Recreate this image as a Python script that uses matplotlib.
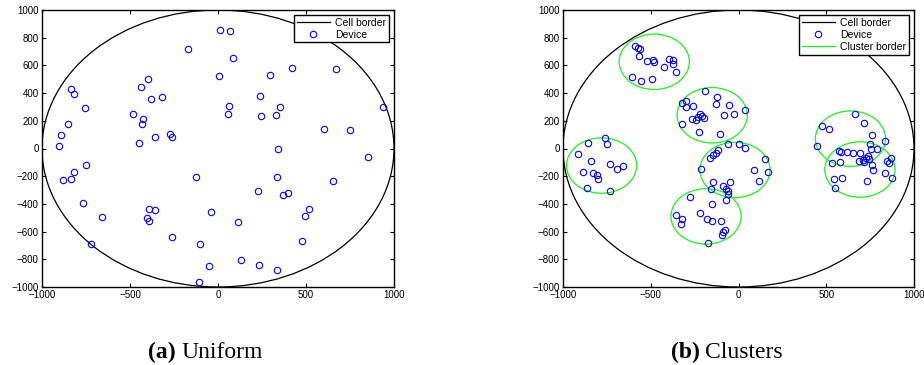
import numpy as np
import matplotlib
matplotlib.use("Agg")
import matplotlib.pyplot as plt
from matplotlib.patches import Circle
from matplotlib.lines import Line2D

plt.rcParams["font.family"] = ["Liberation Sans", "DejaVu Sans"]

# ---------------- data ----------------
cell_radius = 1000

# (a) uniform devices
uni_x = [-170, -837, -818, -756, -854, -890, -905, -483, -438, -396, -381, -316,
         -424, -430, -449, -356, -273, -261, 10, 66, 85, 7, 294, 420, 670, 937,
         240, 64, 57, 246, 330, 352, 602, 752, 339, -750, -816, -835, -881, -765,
         -659, -392, -360, -402, -394, -127, -261, -722, -102, -52, -108, -40,
         852, 655, 333, 225, 368, 399, 112, 517, 496, 479, 129, 233, 337]
uni_y = [718, 432, 392, 295, 177, 95, 20, 251, 446, 502, 360, 374,
         211, 177, 42, 85, 105, 81, 856, 846, 651, 524, 531, 581, 574, 297,
         381, 305, 249, 237, 240, 302, 143, 131, 0, -121, -170, -222, -230, -393,
         -495, -439, -446, -499, -521, -208, -641, -692, -692, -847, -962, -456,
         -59, -237, -208, -307, -338, -321, -529, -435, -487, -670, -808, -839, -880]

# (b) cluster borders
cl_x = [-480, -150, -780, -185, -20, 638, 692]
cl_y = [626, 240, -123, -490, -155, 71, -152]
cl_r = [200, 200, 200, 200, 200, 200, 200]

# (b) clustered devices
clu_x = [
    # cluster A
    -591, -573, -563, -569, -609, -556, -491, -520, -485, -483, -426, -396, -372, -375, -356,
    # cluster B
    -189, -121, -301, -320, -299, -257, -130, -52, 39, -24, -83, -218, -206, -232, -263,
    -240, -195, -320, -225, -107,
    # cluster C
    -859, -762, -747, -913, -840, -732, -660, -691, -888, -831, -808, -802, -865, -730,
    # cluster D
    -278, -153, -218, -356, -322, -329, -178, -153, -100, -77, -87, -96, -172,
    # cluster E
    -62, 5, 39, -115, -130, -144, -161, -214, 151, 88, 170, 115, -144, -48, -87,
    -70, -62, -158, -60, -70,
    # clusters F and G
    662, 715, 474, 514, 761, 833, 449, 751, 755, 791, 573, 586, 620, 651, 692, 736,
    725, 711, 744, 688, 717, 533, 580, 761, 848, 867, 859, 766, 833, 875, 542, 592,
    731, 548]
clu_y = [
    740, 723, 721, 670, 519, 485, 502, 632, 639, 625, 591, 644, 639, 610, 550,
    417, 372, 345, 329, 300, 309, 319, 312, 276, 251, 242, 249, 237, 225, 213,
    204, 223, 179, 117, 107,
    40, 74, 35, -42, -92, -112, -126, -146, -167, -177, -194, -222, -287, -305,
    -352, -398, -463, -478, -509, -545, -507, -521, -523, -589, -605, -624, -680,
    30, 35, 1, -13, -30, -47, -66, -146, -74, -153, -172, -232, -239, -242, -271,
    -290, -307, -292, -326, -372,
    247, 184, 162, 143, 95, 57, 20, 32, -4, -6, -16, -28, -28, -30, -30, -54,
    -69, -83, -74, -88, -95, -102, -100, -119, -88, -66, -102, -157, -175, -211, -218, -215,
    -235, -285]

x_ticks = [-1000, -500, 0, 500, 1000]
y_ticks = [-1000, -800, -600, -400, -200, 0, 200, 400, 600, 800, 1000]

# ---------------- figure ----------------
fig = plt.figure(figsize=(9.24, 3.65), dpi=100)
ax_a = fig.add_axes([42 / 924, 78 / 365, 352 / 924, 277 / 365])
ax_b = fig.add_axes([563 / 924, 78 / 365, 351 / 924, 277 / 365])

blue = (0, 0, 1)
green = (0.1, 0.95, 0.1)


def setup_axes(ax):
    ax.set_xlim(-1000, 1000)
    ax.set_ylim(-1000, 1000)
    ax.set_xticks(x_ticks)
    ax.set_yticks(y_ticks)
    ax.set_xticklabels([str(v).replace("-", "\u2212") for v in x_ticks])
    ax.set_yticklabels([str(v).replace("-", "\u2212") for v in y_ticks])
    ax.tick_params(direction="in", length=3, width=0.8, top=True, right=True,
                   labelsize=7, pad=2.5)
    for sp in ax.spines.values():
        sp.set_linewidth(1.0)
    ax.add_patch(Circle((0, 0), cell_radius, fill=False, edgecolor="black",
                        linewidth=0.9, zorder=1))


def draw_devices(ax, xs, ys):
    ax.plot(xs, ys, linestyle="none", marker="o", markersize=4.6,
            markerfacecolor="none", markeredgecolor=blue, markeredgewidth=0.8,
            zorder=3)


# (a) uniform
setup_axes(ax_a)
draw_devices(ax_a, uni_x, uni_y)
handles_a = [
    Line2D([], [], color="black", linewidth=0.9),
    Line2D([], [], linestyle="none", marker="o", markersize=4.6,
           markerfacecolor="none", markeredgecolor=blue, markeredgewidth=0.8),
]
leg = ax_a.legend(handles_a, ["Cell border", "Device"], loc="upper right",
                  fontsize=7.5, frameon=True, fancybox=False, borderaxespad=0.5,
                  handlelength=3.2, handletextpad=0.5, borderpad=0.25,
                  labelspacing=0.2)
leg.get_frame().set_edgecolor("black")
leg.get_frame().set_linewidth(1.0)
leg.get_frame().set_alpha(1)

# (b) clusters
setup_axes(ax_b)
for cx, cy, r in zip(cl_x, cl_y, cl_r):
    ax_b.add_patch(Circle((cx, cy), r, fill=False, edgecolor=green,
                          linewidth=0.9, zorder=2))
draw_devices(ax_b, clu_x, clu_y)
handles_b = handles_a + [Line2D([], [], color=green, linewidth=0.9)]
leg = ax_b.legend(handles_b, ["Cell border", "Device", "Cluster border"],
                  loc="upper right", fontsize=7.5, frameon=True, fancybox=False,
                  borderaxespad=0.5, handlelength=3.2, handletextpad=0.5,
                  borderpad=0.25, labelspacing=0.2)
leg.get_frame().set_edgecolor("black")
leg.get_frame().set_linewidth(1.0)
leg.get_frame().set_alpha(1)

# captions
cap_font = ["Liberation Serif", "DejaVu Serif"]
cap_y = 1 - 352 / 365
fig.text(176 / 924, cap_y, "(a)", ha="right", va="center", fontsize=17,
         fontweight="bold", family=cap_font)
fig.text(181 / 924, cap_y, "Uniform", ha="left", va="center", fontsize=17,
         family=cap_font)
fig.text(700 / 924, cap_y, "(b)", ha="right", va="center", fontsize=17,
         fontweight="bold", family=cap_font)
fig.text(705 / 924, cap_y, "Clusters", ha="left", va="center", fontsize=17,
         family=cap_font)

fig.savefig("out.png", dpi=100)
